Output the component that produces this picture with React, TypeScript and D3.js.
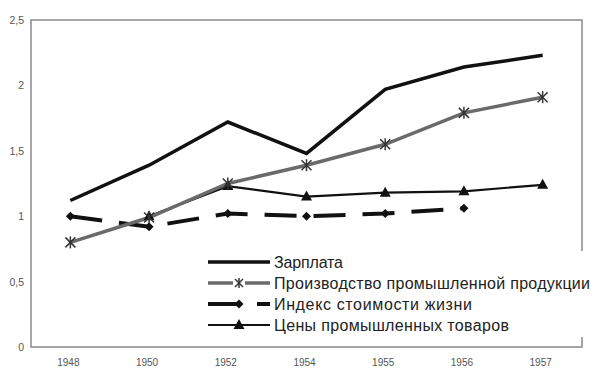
import React from "react";
import * as d3 from "d3";

const years = ["1948", "1950", "1952", "1954", "1955", "1956", "1957"];
const wages: (number | null)[] = [1.12, 1.39, 1.72, 1.48, 1.97, 2.14, 2.23];
const production: (number | null)[] = [0.8, 0.99, 1.25, 1.39, 1.55, 1.79, 1.91];
const costOfLiving: (number | null)[] = [1.0, 0.92, 1.02, 1.0, 1.02, 1.06, null];
const prices: (number | null)[] = [null, 1.0, 1.23, 1.15, 1.18, 1.19, 1.24];
const yTicks = [0, 0.5, 1, 1.5, 2, 2.5];
const seriesNames = [
  "Зарплата",
  "Производство промышленной продукции",
  "Индекс стоимости жизни",
  "Цены промышленных товаров",
];
const legendTextLen = [69, 316, 198, 235];

const W = 610, H = 382;
const left = 31, right = 582, top = 20, bottom = 347;

export default function App() {
  const x = d3.scaleBand<string>().domain(years).range([left, right]);
  const y = d3.scaleLinear().domain([0, 2.5]).range([bottom, top]);
  const cx = (i: number) => (x(years[i]) as number) + x.bandwidth() / 2;

  const mk = (vals: (number | null)[]) =>
    d3
      .line<number | null>()
      .defined((v) => v !== null)
      .x((_, i) => cx(i))
      .y((v) => y(v as number))(vals) as string;

  const star = (px: number, py: number, s: number, color: string, key: string) => (
    <g key={key} stroke={color} strokeWidth={1.5}>
      <line x1={px - s} y1={py - s} x2={px + s} y2={py + s} />
      <line x1={px - s} y1={py + s} x2={px + s} y2={py - s} />
      <line x1={px} y1={py - s - 1} x2={px} y2={py + s + 1} />
    </g>
  );
  const tri = (px: number, py: number, key: string) => (
    <path key={key} d={`M${px},${py - 6}L${px + 5.5},${py + 4}L${px - 5.5},${py + 4}Z`} fill="#111" />
  );
  const dia = (px: number, py: number, key: string) => (
    <path key={key} d={`M${px},${py - 4.5}L${px + 4.5},${py}L${px},${py + 4.5}L${px - 4.5},${py}Z`} fill="#111" />
  );

  const legY = [262, 283, 304, 325];
  const lx1 = 208, lx2 = 270, lmid = 239;

  return (
    <svg width={W} height={H} style={{ position: "absolute", left: 0, top: 0, background: "#fff" }}>
      <rect x={0} y={0} width={W} height={H} fill="#fff" />
      <rect x={left} y={top} width={right - left} height={bottom - top} fill="none" stroke="#8a8a8a" strokeWidth={1.5} />
      {yTicks.map((t) => (
        <text key={t} x={24} y={y(t) + 4} textAnchor="end" fontFamily="Liberation Sans, Arial" fontSize={10.5} fill="#555">
          {String(t).replace(".", ",")}
        </text>
      ))}
      {years.map((yr, i) => (
        <text key={yr} x={cx(i) - 2} y={366} textAnchor="middle" fontFamily="Liberation Sans, Arial" fontSize={10} fill="#555">
          {yr}
        </text>
      ))}

      <path d={mk(prices)} fill="none" stroke="#111" strokeWidth={2.2} />
      <path d={mk(costOfLiving)} fill="none" stroke="#111" strokeWidth={4} strokeDasharray="32 17" />
      <path d={mk(production)} fill="none" stroke="#6a6a6a" strokeWidth={3.5} />
      <path d={mk(wages)} fill="none" stroke="#111" strokeWidth={3.5} />

      {costOfLiving.map((v, i) => (v === null ? null : dia(cx(i), y(v), "d" + i)))}
      {prices.map((v, i) => (v === null ? null : tri(cx(i), y(v), "t" + i)))}
      {production.map((v, i) => (v === null ? null : star(cx(i), y(v), 5, "#333", "s" + i)))}

      {/* legend */}
      <rect x={204} y={251} width={390} height={86} fill="#fff" />
      <line x1={lx1} x2={lx2} y1={legY[0]} y2={legY[0]} stroke="#111" strokeWidth={3.5} />
      <line x1={lx1} x2={lx2} y1={legY[1]} y2={legY[1]} stroke="#6a6a6a" strokeWidth={3.5} />
      <rect x={lmid - 6} y={legY[1] - 6} width={12} height={12} fill="#fff" />
      {star(lmid, legY[1], 4, "#333", "ls")}
      <line x1={lx1} x2={lx2} y1={legY[2]} y2={legY[2]} stroke="#111" strokeWidth={4} strokeDasharray="33 16" />
      {dia(lmid, legY[2], "ld")}
      <line x1={lx1} x2={lx2} y1={legY[3]} y2={legY[3]} stroke="#111" strokeWidth={2.2} />
      {tri(lmid, legY[3], "lt")}
      {seriesNames.map((n, i) => (
        <text
          key={n}
          x={274}
          y={legY[i] + 5.5}
          fontFamily="Liberation Sans, Arial"
          fontSize={16}
          fill="#222"
          textLength={legendTextLen[i]}
          lengthAdjust="spacing"
        >
          {n}
        </text>
      ))}
    </svg>
  );
}
